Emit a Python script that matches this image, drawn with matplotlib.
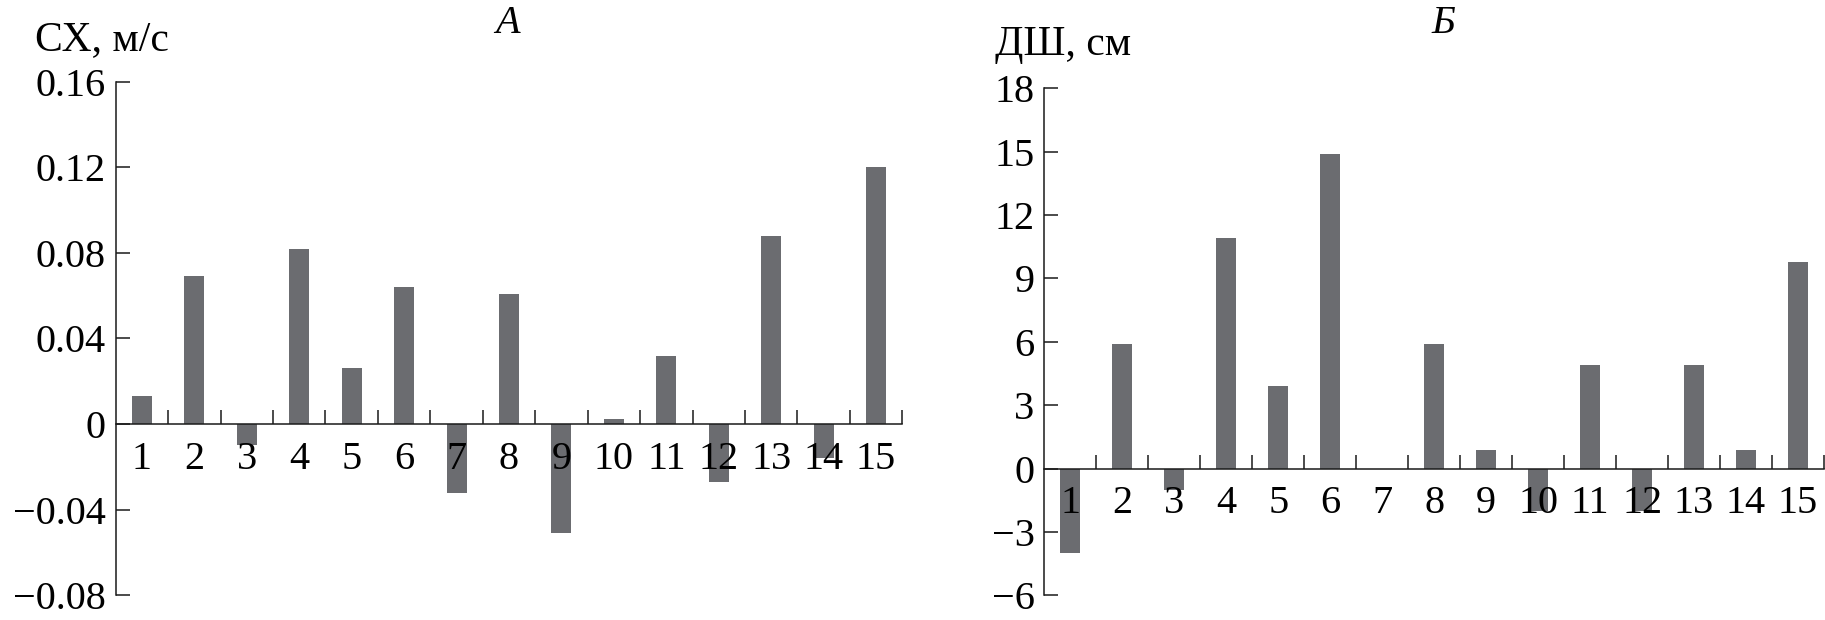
import matplotlib
matplotlib.use('Agg')
import matplotlib.pyplot as plt
import numpy as np

# ---- data ----
categories = list(range(1, 16))
sx_values = [0.013, 0.069, -0.010, 0.082, 0.026, 0.064, -0.032, 0.061,
             -0.051, 0.0025, 0.032, -0.027, 0.088, -0.016, 0.120]
dsh_values = [-4.0, 5.9, -1.0, 10.9, 3.9, 14.9, 0.0, 5.9,
              0.9, -2.0, 4.9, -2.0, 4.9, 0.9, 9.8]
sx_ticks = [-0.08, -0.04, 0, 0.04, 0.08, 0.12, 0.16]
sx_ticklabels = ['−0.08', '−0.04', '0', '0.04', '0.08', '0.12', '0.16']
dsh_ticks = [-6, -3, 0, 3, 6, 9, 12, 15, 18]
dsh_ticklabels = ['−6', '−3', '0', '3', '6', '9', '12', '15', '18']
titles = ['А', 'Б']
ylabels = ['СХ, м/с', 'ДШ, см']

plt.rcParams['font.family'] = ['Liberation Serif', 'DejaVu Serif']

BAR = '#6b6c70'
W, H = 1825, 620
fig = plt.figure(figsize=(W / 100, H / 100), dpi=100)


def make_axes(x0, x1, ytop, ybot):
    return fig.add_axes([x0 / W, 1 - ybot / H, (x1 - x0) / W, (ybot - ytop) / H])


def style(ax, values, ticks, ticklabels):
    x = np.array(categories)
    ax.bar(x, values, width=0.38, color=BAR, zorder=1)
    ax.set_xlim(0.5, 15.5)
    ax.set_ylim(ticks[0], ticks[-1])
    for s in ('top', 'right'):
        ax.spines[s].set_visible(False)
    ax.spines['bottom'].set_position(('data', 0))
    for s in ('left', 'bottom'):
        ax.spines[s].set_linewidth(1.1)
        ax.spines[s].set_color('#1a1a1a')
    ax.set_yticks(ticks)
    ax.set_yticklabels(ticklabels)
    ax.tick_params(axis='y', direction='in', length=10, width=1.1,
                   labelsize=29, pad=7, color='#1a1a1a')
    ax.set_xticks(np.arange(1.5, 16, 1))
    ax.set_xticklabels([])
    ax.set_xticks(x, minor=True)
    ax.set_xticklabels([str(c) for c in categories], minor=True)
    ax.tick_params(axis='x', which='major', direction='in', length=10,
                   width=1.1, color='#1a1a1a')
    ax.tick_params(axis='x', which='minor', length=0, labelsize=29, pad=12)
    ax.patch.set_visible(False)


axA = make_axes(115.7, 902.3, 81.7, 595.3)
style(axA, sx_values, sx_ticks, sx_ticklabels)
axB = make_axes(1044.3, 1824.0, 88.3, 595.3)
style(axB, dsh_values, dsh_ticks, dsh_ticklabels)

fig.text(508 / W, 1 - 33 / H, titles[0], fontsize=29, style='italic',
         ha='center', va='baseline')
fig.text(1443 / W, 1 - 33 / H, titles[1], fontsize=29, style='italic',
         ha='center', va='baseline')
fig.text(35 / W, 1 - 50 / H, ylabels[0], fontsize=30, ha='left', va='baseline')
fig.text(995 / W, 1 - 55 / H, ylabels[1], fontsize=30, ha='left', va='baseline')

fig.savefig('out.png', dpi=100)
